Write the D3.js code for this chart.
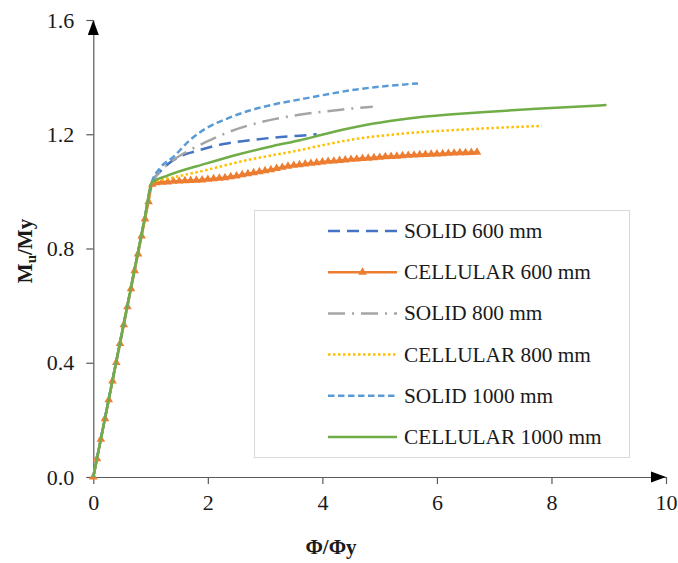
<!DOCTYPE html>
<html lang="en">
<head>
    <meta charset="UTF-8">
    <title>Mu/My vs Φ/Φy</title>
    <style>
        body { margin: 0; padding: 0; background: #fff; }
        svg text { font-family: "Liberation Serif", "Times New Roman", serif; fill: #1a1a1a; }
    </style>
</head>
<body>
    <div id="chart"></div>
    <script src="https://d3js.org/d3.v7.min.js"></script>
    <script>
        // Tick values
        const xTicks = [0, 2, 4, 6, 8, 10];
        const yTicks = [0, 0.4, 0.8, 1.2, 1.6];

        // Series data: [Φ/Φy, Mu/My]
        const solid600 = [[0, 0], [0.5, 0.505], [0.9, 0.908], [1.02, 1.03], [1.15, 1.065], [1.3, 1.095],
            [1.51, 1.122], [1.8, 1.141], [2.27, 1.166], [2.73, 1.179], [3.14, 1.188], [3.61, 1.195], [3.9, 1.2]];

        const cellular600 = [[0, 0], [0.064, 0.064], [0.132, 0.132], [0.204, 0.204], [0.27, 0.27], [0.336, 0.336],
            [0.401, 0.401], [0.467, 0.467], [0.533, 0.533], [0.596, 0.596], [0.659, 0.659], [0.722, 0.722],
            [0.781, 0.781], [0.844, 0.844], [0.903, 0.903], [0.964, 0.964], [1.03, 1.025],
            [1.1, 1.03], [1.2, 1.032], [1.3, 1.033], [1.4, 1.035], [1.5, 1.036], [1.6, 1.037], [1.7, 1.038],
            [1.8, 1.039], [1.9, 1.04], [2.0, 1.042], [2.1, 1.044], [2.2, 1.046], [2.3, 1.048], [2.4, 1.051],
            [2.5, 1.054], [2.6, 1.058], [2.7, 1.062], [2.8, 1.065], [2.9, 1.069], [3.0, 1.072], [3.1, 1.076],
            [3.2, 1.08], [3.3, 1.084], [3.4, 1.088], [3.5, 1.091], [3.6, 1.093], [3.7, 1.096], [3.8, 1.098],
            [3.9, 1.1], [4.0, 1.103], [4.1, 1.105], [4.2, 1.106], [4.3, 1.108], [4.4, 1.11], [4.5, 1.112],
            [4.6, 1.113], [4.7, 1.115], [4.8, 1.116], [4.9, 1.118], [5.0, 1.119], [5.1, 1.121], [5.2, 1.122],
            [5.3, 1.123], [5.4, 1.125], [5.5, 1.126], [5.6, 1.127], [5.7, 1.128], [5.8, 1.129], [5.9, 1.13],
            [6.0, 1.131], [6.1, 1.132], [6.2, 1.133], [6.3, 1.134], [6.4, 1.135], [6.5, 1.135], [6.6, 1.136],
            [6.7, 1.137]];

        const solid800 = [[0, 0], [0.5, 0.505], [0.9, 0.908], [1.02, 1.03], [1.15, 1.065], [1.4, 1.11],
            [1.69, 1.145], [1.98, 1.174], [2.33, 1.205], [2.73, 1.232], [3.14, 1.252], [3.49, 1.265],
            [4.01, 1.279], [4.36, 1.287], [4.88, 1.296]];

        const cellular800 = [[0, 0], [0.5, 0.505], [0.9, 0.908], [1.02, 1.03], [1.4, 1.049], [1.98, 1.075],
            [2.56, 1.104], [3.14, 1.127], [3.55, 1.142], [4.01, 1.162], [4.6, 1.184], [5.18, 1.198],
            [5.76, 1.208], [6.34, 1.215], [6.87, 1.221], [7.83, 1.229]];

        const solid1000 = [[0, 0], [0.5, 0.505], [0.9, 0.908], [1.02, 1.03], [1.16, 1.08], [1.4, 1.121],
            [1.69, 1.18], [1.98, 1.222], [2.33, 1.254], [2.73, 1.283], [3.14, 1.304], [3.61, 1.322],
            [4.01, 1.337], [4.6, 1.357], [5.18, 1.37], [5.67, 1.378]];

        const cellular1000 = [[0, 0], [0.5, 0.505], [0.9, 0.908], [1.02, 1.03], [1.28, 1.054], [1.98, 1.098],
            [2.56, 1.131], [3.14, 1.159], [3.61, 1.179], [4.01, 1.199], [4.6, 1.226], [5.18, 1.246],
            [5.76, 1.261], [6.34, 1.271], [6.92, 1.279], [7.74, 1.289], [8.96, 1.302]];

        const seriesNames = ['SOLID 600 mm', 'CELLULAR 600 mm', 'SOLID 800 mm',
            'CELLULAR 800 mm', 'SOLID 1000 mm', 'CELLULAR 1000 mm'];
        const seriesData = [solid600, cellular600, solid800, cellular800, solid1000, cellular1000];

        // Styles per series
        const styles = [
            { color: '#4472C4', dash: '12,7', width: 2.5 },
            { color: '#ED7D31', dash: null, width: 2.5, marker: true },
            { color: '#A5A5A5', dash: '17,7,2,7', width: 2.5 },
            { color: '#FFC000', dash: '2.5,2.5', width: 2.5 },
            { color: '#5B9BD5', dash: '6.5,3.5', width: 2.5 },
            { color: '#70AD47', dash: null, width: 2.5 }
        ];

        const width = 678, height = 563;

        const svg = d3.select('#chart').append('svg')
            .attr('width', width)
            .attr('height', height);

        const x = d3.scaleLinear().domain([0, 10]).range([93.3, 666]);
        const y = d3.scaleLinear().domain([0, 1.6]).range([477, 20]);

        // Axes
        const xAxis = svg.append('g')
            .attr('transform', `translate(0,${y(0)})`)
            .call(d3.axisBottom(x).tickValues(xTicks).tickSize(7).tickSizeOuter(0).tickPadding(10));
        const yAxis = svg.append('g')
            .attr('transform', `translate(${x(0)},0)`)
            .call(d3.axisLeft(y).tickValues(yTicks).tickFormat(d3.format('.1f'))
                .tickSize(7).tickSizeOuter(0).tickPadding(12));

        [xAxis, yAxis].forEach(a => {
            a.attr('font-family', null).attr('font-size', null);
            a.select('.domain').attr('stroke', '#595959').attr('stroke-width', 1.2);
            a.selectAll('.tick line').attr('stroke', '#595959').attr('stroke-width', 1.2);
            a.selectAll('.tick text').attr('font-size', 22).attr('fill', '#1a1a1a');
        });

        // Arrow heads
        svg.append('path')
            .attr('d', `M${x(10)},${y(0)} L${x(10) - 15},${y(0) - 5.5} L${x(10) - 15},${y(0) + 5.5} Z`)
            .attr('fill', '#000');
        svg.append('path')
            .attr('d', `M${x(0)},${y(1.6)} L${x(0) - 5.5},${y(1.6) + 15} L${x(0) + 5.5},${y(1.6) + 15} Z`)
            .attr('fill', '#000');

        // Lines
        const line = d3.line()
            .x(d => x(d[0]))
            .y(d => y(d[1]))
            .curve(d3.curveMonotoneX);

        const triangle = d3.symbol().type(d3.symbolTriangle).size(32);

        // Legend box sits under the curves
        const legend = svg.append('g');
        legend.append('rect')
            .attr('x', 254.5).attr('y', 210.5)
            .attr('width', 375).attr('height', 247)
            .attr('fill', '#fff')
            .attr('stroke', '#d9d9d9')
            .attr('stroke-width', 1);

        seriesData.forEach((data, i) => {
            const s = styles[i];
            svg.append('path')
                .datum(data)
                .attr('fill', 'none')
                .attr('stroke', s.color)
                .attr('stroke-width', s.width)
                .attr('stroke-dasharray', s.dash)
                .attr('d', line);
            if (s.marker) {
                svg.append('g').selectAll('path')
                    .data(data)
                    .join('path')
                    .attr('transform', d => `translate(${x(d[0])},${y(d[1])})`)
                    .attr('d', triangle)
                    .attr('fill', s.color);
            }
        });

        // Legend entries
        seriesNames.forEach((name, i) => {
            const s = styles[i];
            const cy = 231 + i * 41.2;
            legend.append('line')
                .attr('x1', 328).attr('x2', 397)
                .attr('y1', cy).attr('y2', cy)
                .attr('stroke', s.color)
                .attr('stroke-width', s.width)
                .attr('stroke-dasharray', s.dash);
            if (s.marker) {
                legend.append('path')
                    .attr('transform', `translate(362.5,${cy})`)
                    .attr('d', triangle)
                    .attr('fill', s.color);
            }
            legend.append('text')
                .attr('x', 404).attr('y', cy + 7)
                .attr('font-size', 21.3)
                .text(name);
        });

        // Axis titles
        svg.append('text')
            .attr('x', 331).attr('y', 554)
            .attr('text-anchor', 'middle')
            .attr('font-size', 21)
            .attr('font-weight', 'bold')
            .text('Φ/Φy');

        const yTitle = svg.append('text')
            .attr('transform', 'translate(32,251) rotate(-90)')
            .attr('text-anchor', 'middle')
            .attr('font-size', 21)
            .attr('font-weight', 'bold');
        yTitle.append('tspan').text('M');
        yTitle.append('tspan').attr('font-size', 15).attr('dy', 4).text('u');
        yTitle.append('tspan').attr('dy', -4).text('/My');
    </script>
</body>
</html>
